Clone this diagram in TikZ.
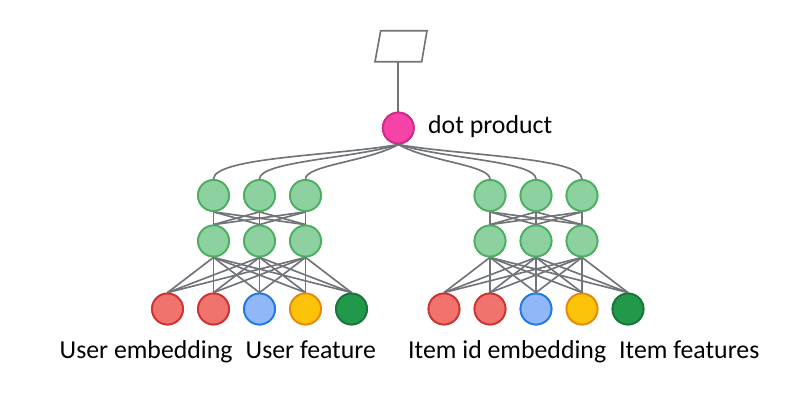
\documentclass[tikz,border=0pt]{standalone}
\usepackage{fontspec}
\setmainfont{Carlito}
\definecolor{linegray}{HTML}{707378}
\definecolor{hidfill}{HTML}{8ED1A0}
\definecolor{hiddraw}{HTML}{4CAF60}
\definecolor{redfill}{HTML}{F0736E}
\definecolor{reddraw}{HTML}{D0312D}
\definecolor{bluefill}{HTML}{90B8F8}
\definecolor{bluedraw}{HTML}{1E78E6}
\definecolor{yelfill}{HTML}{FBC20A}
\definecolor{yeldraw}{HTML}{E8880A}
\definecolor{dgfill}{HTML}{22984A}
\definecolor{dgdraw}{HTML}{177538}
\definecolor{pinkfill}{HTML}{F543A8}
\definecolor{pinkdraw}{HTML}{CE2A86}
\tikzset{
  neuron/.style={circle, minimum size=31pt, inner sep=0pt, line width=1.8pt},
  hid/.style={neuron, fill=hidfill, draw=hiddraw},
  inred/.style={neuron, fill=redfill, draw=reddraw},
  inblue/.style={neuron, fill=bluefill, draw=bluedraw},
  inyel/.style={neuron, fill=yelfill, draw=yeldraw},
  indg/.style={neuron, fill=dgfill, draw=dgdraw},
  dotnode/.style={neuron, fill=pinkfill, draw=pinkdraw},
  conn/.style={draw=linegray, line width=1.65pt},
  lbl/.style={inner sep=0pt, anchor=base west, font=\fontsize{25.8}{30}\selectfont},
  outbox/.style={draw=linegray, line width=1.65pt, line join=miter}
}
\begin{document}
\begin{tikzpicture}[x=1pt,y=-1pt]
\useasboundingbox (0,0) rectangle (812,417);
% output box (parallelogram) and dot product
\draw[outbox] (380.7,30.7) -- (427,30.7) -- (421.7,61.7) -- (375,61.7) -- cycle;
\coordinate (out) at (398.3,61.7);
\node[dotnode] (dot) at (398.3,128) {};
\node[lbl] (dotlbl) at (428,133.5) {dot product};
\draw[conn] (out) -- (dot.north);
% hidden layers
\foreach \s/\xa/\xb/\xc in {L/213.5/259.5/305.5, R/490/536/582}{
  \node[hid] (\s a1) at (\xa,195.5) {};
  \node[hid] (\s b1) at (\xb,195.5) {};
  \node[hid] (\s c1) at (\xc,195.5) {};
  \node[hid] (\s a2) at (\xa,241) {};
  \node[hid] (\s b2) at (\xb,241) {};
  \node[hid] (\s c2) at (\xc,241) {};
}
% inputs
\foreach \s/\x in {L/167.5, R/444}{
  \node[inred]  (\s i1) at (\x,309) {};
  \node[inred]  (\s i2) at (\x+46,309) {};
  \node[inblue] (\s i3) at (\x+92,309) {};
  \node[inyel]  (\s i4) at (\x+138,309) {};
  \node[indg]   (\s i5) at (\x+184,309) {};
}
% connections layer1 -> layer2 -> inputs
\foreach \s in {L,R}{
  \foreach \u in {a,b,c}{
    \foreach \v in {a,b,c}{
      \draw[conn] (\s\u1.south) -- (\s\v2.north);
    }
    \foreach \k in {1,...,5}{
      \draw[conn] (\s\u2.south) -- (\s i\k.north);
    }
  }
}
% curves from dot product to top layer
\coordinate (ds) at (398.3,144.5);
\draw[conn] (ds) .. controls +(-60,11) and +(0,-22) .. (La1.north);
\draw[conn] (ds) .. controls +(-44,14) and +(0,-18) .. (Lb1.north);
\draw[conn] (ds) .. controls +(-30,17) and +(0,-14) .. (Lc1.north);
\draw[conn] (ds) .. controls +(60,11) and +(0,-22) .. (Rc1.north);
\draw[conn] (ds) .. controls +(44,14) and +(0,-18) .. (Rb1.north);
\draw[conn] (ds) .. controls +(30,17) and +(0,-14) .. (Ra1.north);
% redraw nodes on top
\foreach \s in {L,R}{
  \foreach \u in {a,b,c}{
    \node[hid] at (\s\u1) {};
    \node[hid] at (\s\u2) {};
  }
  \node[inred] at (\s i1) {};
  \node[inred] at (\s i2) {};
  \node[inblue] at (\s i3) {};
  \node[inyel] at (\s i4) {};
  \node[indg] at (\s i5) {};
}
\node[dotnode] at (dot) {};
% labels
\node[lbl] (l1) at (59.5,358.2) {User embedding};
\node[lbl] (l2) at (245.5,358.2) {User feature};
\node[lbl] (l3) at (408,358.2) {Item id embedding};
\node[lbl] (l4) at (619,358.2) {Item features};
\end{tikzpicture}
\end{document}
